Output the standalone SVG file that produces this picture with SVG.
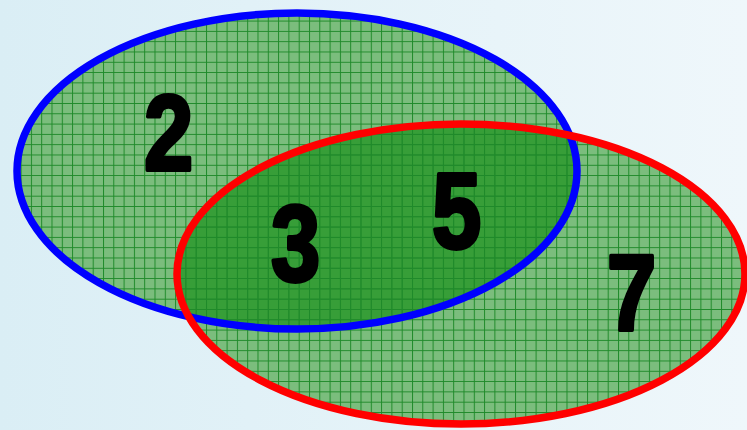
<svg xmlns="http://www.w3.org/2000/svg" width="747" height="430" viewBox="0 0 747 430">
<defs>
<linearGradient id="bg" x1="0" y1="0" x2="1" y2="0">
<stop offset="0" stop-color="#daeef5"/>
<stop offset="1" stop-color="#eff7fb"/>
</linearGradient>
<pattern id="grid" width="10.3" height="10.3" patternUnits="userSpaceOnUse">
<path d="M0 0.5H10.3M0.5 0V10.3" stroke="#1f8a2a" stroke-width="1" fill="none"/>
</pattern>
<clipPath id="blueClip"><ellipse cx="297" cy="171" rx="280" ry="158"/></clipPath>
</defs>
<style>
.num{font-family:"Liberation Sans",Arial,sans-serif;font-weight:bold;font-size:108px;fill:#000;stroke:#000;stroke-width:4;stroke-linejoin:round}
.outline{fill:none;stroke-width:7.5}
</style>
<rect width="747" height="430" fill="url(#bg)"/>
<g id="sets-fill">
<ellipse cx="297" cy="171" rx="280" ry="158" fill="#7bbd7d"/>
<ellipse cx="461" cy="274" rx="284" ry="150" fill="#7bbd7d"/>
<ellipse cx="461" cy="274" rx="284" ry="150" fill="#379e38" clip-path="url(#blueClip)"/>
<ellipse cx="297" cy="171" rx="280" ry="158" fill="url(#grid)"/>
<ellipse cx="461" cy="274" rx="284" ry="150" fill="url(#grid)"/>
</g>
<g id="set-A">
<ellipse class="outline" cx="297" cy="171" rx="280" ry="158" stroke="#0000ff"/>
</g>
<g id="set-B">
<ellipse class="outline" cx="461" cy="274" rx="284" ry="150" stroke="#ff0000"/>
</g>
<g id="labels">
<text class="num" transform="translate(144 170) scale(0.82 1)">2</text>
<text class="num" transform="translate(271 281) scale(0.82 1)">3</text>
<text class="num" transform="translate(432 248) scale(0.82 1)">5</text>
<text class="num" transform="translate(607 330) scale(0.82 1)">7</text>
</g>
</svg>
